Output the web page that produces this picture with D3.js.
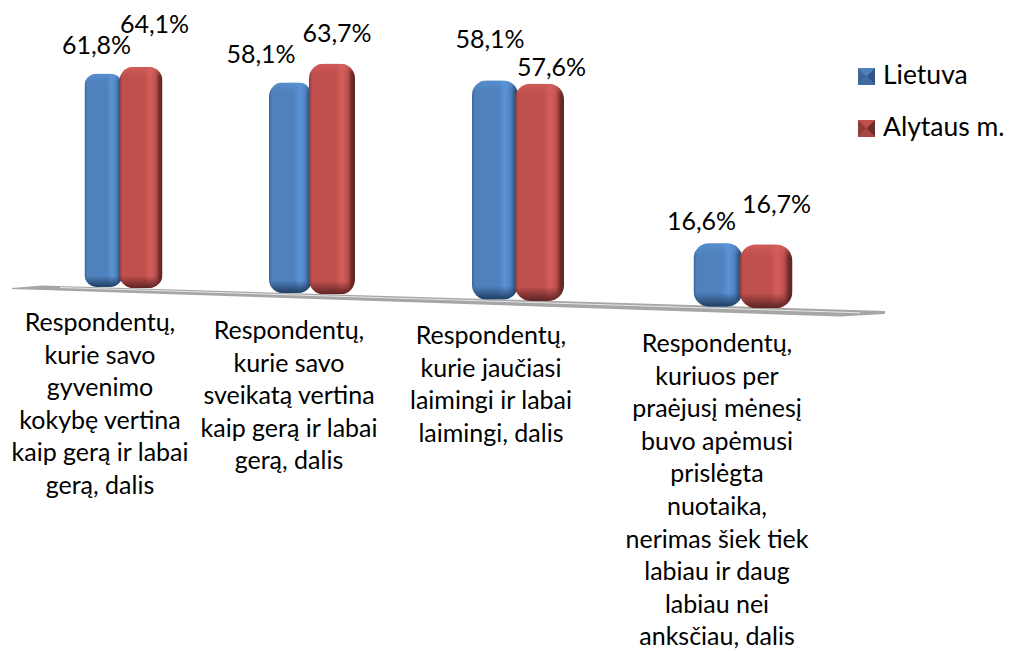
<!DOCTYPE html>
<html>
<head>
<meta charset="utf-8">
<script src="https://cdn.jsdelivr.net/npm/d3@7"></script>
<style>
  html, body { margin: 0; padding: 0; background: #fff; }
  svg { display: block; }
  text { font-family: Lato, "Open Sans", sans-serif; fill: #000; }
</style>
</head>
<body>
<svg id="vis" width="1016" height="651"></svg>
<script>
var categories = [
  ['Respondentų,', 'kurie savo', 'gyvenimo', 'kokybę vertina', 'kaip gerą ir labai', 'gerą, dalis'],
  ['Respondentų,', 'kurie savo', 'sveikatą vertina', 'kaip gerą ir labai', 'gerą, dalis'],
  ['Respondentų,', 'kurie jaučiasi', 'laimingi ir labai', 'laimingi, dalis'],
  ['Respondentų,', 'kuriuos per', 'praėjusį mėnesį', 'buvo apėmusi', 'prislėgta', 'nuotaika,', 'nerimas šiek tiek', 'labiau ir daug', 'labiau nei', 'anksčiau, dalis']
];
var seriesNames = ['Lietuva', 'Alytaus m.'];
var lietuva = [61.8, 58.1, 58.1, 16.6];
var alytaus = [64.1, 63.7, 57.6, 16.7];
var seriesValues = [lietuva, alytaus];

var prefs = {
  labelFont: 25,
  legendFont: 26.5,
  lineHeight: 32.6,
  barOverlap: 3,
  /* hand placed data labels, as in the source chart: [series][group] */
  labelDx: [[-7, -29.5, -5, -16.5], [13.5, 5, 12, 10.5]],
  labelDy: [[-20, -20, -32, -13], [-34, -22, -8, -31]]
};

var svg = d3.select('#vis'),
    defs = svg.append('defs');

/* The chart has a fake perspective, so spacing, width and height all grow to the right */
var groupIndex = d3.range(categories.length);
var xScale = d3.scaleLinear().domain(groupIndex).range([121, 310.5, 516.5, 741]);
var widthScale = d3.scaleLinear().domain([0, 1, 2, 3, 4]).range([38, 43, 46, 49, 53]);
var floorScale = d3.scaleLinear().domain([12, 885]).range([284, 312]);
var unitScale = d3.scaleLinear().domain(groupIndex).range([3.45, 3.62, 3.77, 3.82]);
var labelXs = d3.scaleLinear().domain(groupIndex).range([100, 289, 491, 717]);
var labelTops = d3.scaleLinear().domain(groupIndex).range([331, 339, 344, 352]);

var palette = [
  { base: '#4f81bd', light: '#5a93d6', dark: '#2f5684', edge: '#3d6696', foot: '#1f3d60', top: '#3f6ca3' },
  { base: '#c0504d', light: '#d45f5c', dark: '#6e2c2a', edge: '#8f3b39', foot: '#5c2321', top: '#a84543' }
];

palette.forEach(function(p, j) {
  var side = defs.append('linearGradient').attr('id', 'side' + j);
  [[0, p.edge], [0.07, p.base], [0.58, p.base], [0.72, p.light], [0.84, p.base], [0.93, p.dark], [1, p.foot]].forEach(function(s) {
    side.append('stop').attr('offset', s[0]).attr('stop-color', s[1]);
  });

  var foot = defs.append('linearGradient').attr('id', 'foot' + j)
    .attr('x1', 0).attr('y1', 0).attr('x2', 0).attr('y2', 1);
  foot.append('stop').attr('offset', 0).attr('stop-color', p.foot).attr('stop-opacity', 0);
  foot.append('stop').attr('offset', 1).attr('stop-color', p.foot).attr('stop-opacity', 1);

  var head = defs.append('linearGradient').attr('id', 'head' + j)
    .attr('x1', 0).attr('y1', 0).attr('x2', 0).attr('y2', 1);
  head.append('stop').attr('offset', 0).attr('stop-color', p.light).attr('stop-opacity', 0.7);
  head.append('stop').attr('offset', 1).attr('stop-color', p.light).attr('stop-opacity', 0);
});

/* Floor */
svg.append('path')
  .attr('d', 'M12,288 L42,285.5 L885,311 L885,314 L840,316.5 L12,289 Z')
  .attr('fill', '#a6a6a6');
svg.append('path')
  .attr('d', 'M60,287.5 L860,312.8')
  .attr('stroke', '#e6e6e6')
  .attr('stroke-width', 1)
  .attr('fill', 'none');

/* Bars */
var bars = [];
seriesValues.forEach(function(values, j) {
  values.forEach(function(v, i) {
    var w = widthScale(i + j);
    var x = j === 0 ? xScale(i) - w + prefs.barOverlap / 2 : xScale(i) - prefs.barOverlap / 2;
    var bottom = floorScale(x + w / 2);
    var h = v * unitScale(i);
    bars.push({ id: 'bar' + j + '_' + i, series: j, group: i, value: v, x: x, w: w, y: bottom - h, h: h, r: w * 0.32 });
  });
});

/* Head and foot shading get clipped to the rounded bar */
defs.selectAll('clipPath')
  .data(bars)
  .join('clipPath')
  .attr('id', function(d) { return d.id; })
  .append('rect')
  .attr('x', function(d) { return d.x; })
  .attr('y', function(d) { return d.y; })
  .attr('width', function(d) { return d.w; })
  .attr('height', function(d) { return d.h; })
  .attr('rx', function(d) { return d.r; });

var barGroups = svg.append('g').selectAll('g')
  .data(bars)
  .join('g')
  .attr('clip-path', function(d) { return 'url(#' + d.id + ')'; });

barGroups.append('rect')
  .attr('y', function(d) { return d.y; })
  .attr('height', function(d) { return d.h; })
  .attr('fill', function(d) { return 'url(#side' + d.series + ')'; });
barGroups.append('rect')
  .attr('y', function(d) { return d.y; })
  .attr('height', function(d) { return d.r * 0.7; })
  .attr('fill', function(d) { return 'url(#head' + d.series + ')'; });
barGroups.append('rect')
  .attr('y', function(d) { return d.y + d.h - d.r * 0.9; })
  .attr('height', function(d) { return d.r * 0.9; })
  .attr('fill', function(d) { return 'url(#foot' + d.series + ')'; });

barGroups.selectAll('rect')
  .attr('x', function(d) { return d.x; })
  .attr('width', function(d) { return d.w; });

/* Value labels */
svg.append('g').selectAll('text')
  .data(bars)
  .join('text')
  .attr('text-anchor', 'middle')
  .attr('font-size', prefs.labelFont)
  .attr('x', function(d) { return d.x + d.w / 2 + prefs.labelDx[d.series][d.group]; })
  .attr('y', function(d) { return d.y + prefs.labelDy[d.series][d.group]; })
  .text(function(d) { return d3.format('.1f')(d.value).replace('.', ',') + '%'; });

/* Category labels */
var catLabels = svg.append('g').selectAll('text')
  .data(categories)
  .join('text')
  .attr('text-anchor', 'middle')
  .attr('font-size', prefs.labelFont);

catLabels.each(function(lines, i) {
  d3.select(this).selectAll('tspan')
    .data(lines)
    .join('tspan')
    .attr('x', labelXs(i))
    .attr('y', function(d, k) { return labelTops(i) + k * prefs.lineHeight; })
    .text(function(d) { return d; });
});

/* Legend */
var legend = svg.append('g').selectAll('g')
  .data(seriesNames)
  .join('g')
  .attr('transform', function(d, j) { return 'translate(858,' + (68 + j * 52) + ')'; });

legend.append('rect')
  .attr('width', 17)
  .attr('height', 17)
  .attr('fill', function(d, j) { return palette[j].base; });
legend.append('path')
  .attr('d', 'M0,0 L8.5,8.5 L0,17 Z')
  .attr('fill', function(d, j) { return palette[j].edge; });
legend.append('path')
  .attr('d', 'M17,0 L8.5,8.5 L17,17 Z')
  .attr('fill', function(d, j) { return palette[j].dark; });
legend.append('path')
  .attr('d', 'M0,17 L8.5,8.5 L17,17 Z')
  .attr('fill', function(d, j) { return palette[j].top; });
legend.append('text')
  .attr('x', 25)
  .attr('y', 16)
  .attr('font-size', prefs.legendFont)
  .text(function(d) { return d; });
</script>
</body>
</html>
